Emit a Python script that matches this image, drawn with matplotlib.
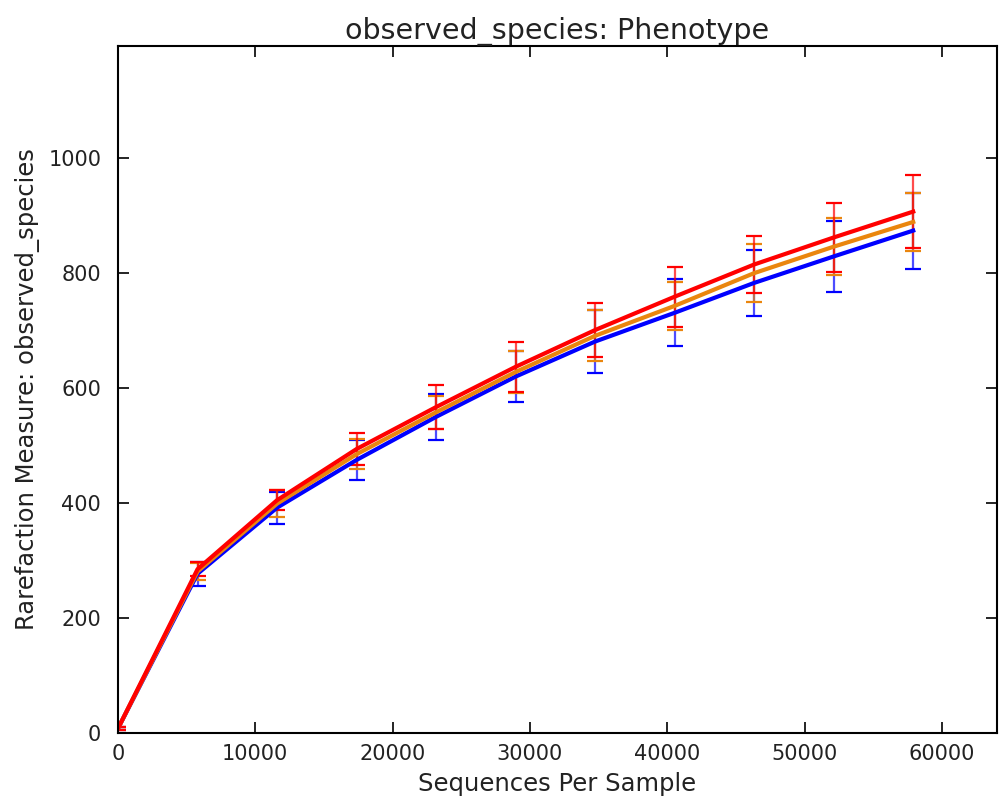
import numpy as np
import matplotlib
matplotlib.use("Agg")
import matplotlib.pyplot as plt

# sequences per sample (rarefaction depths)
depths = [10, 5799, 11588, 17377, 23166, 28955, 34744, 40533, 46322, 52111, 57900]

# mean observed species per group, with std error bars
blue_mean = [8, 277, 392, 475, 550, 620, 681, 731, 783, 829, 874]
blue_err = [2, 21, 28, 35, 40, 45, 54, 58, 58, 62, 66]
orange_mean = [8, 281, 399, 485, 558, 628, 691, 743, 800, 846, 889]
orange_err = [2, 15, 24, 26, 29, 36, 44, 42, 50, 50, 50]
red_mean = [8, 285, 405, 494, 567, 637, 701, 759, 815, 862, 907]
red_err = [2, 12, 17, 28, 39, 44, 47, 52, 50, 60, 64]

series = [
    (blue_mean, blue_err, '#0000ff'),
    (orange_mean, orange_err, '#ea860e'),
    (red_mean, red_err, '#ff0000'),
]

txt = '#222222'

fig = plt.figure(figsize=(9.99, 8.02), dpi=100)
ax = fig.add_axes([0.118, 0.086, 0.880, 0.8566])

for mean, err, col in series:
    ax.errorbar(depths, mean, yerr=err, color=col, lw=3, elinewidth=1.6,
                capsize=6, capthick=1.6, ecolor=col)
# error bars a bit translucent like the original
for c in ax.collections:
    c.set_alpha(0.7)

ax.set_xlim(0, 64000)
ax.set_ylim(0, 1195)
ax.set_xticks(np.arange(0, 60001, 10000))
ax.set_yticks(np.arange(0, 1001, 200))

ax.tick_params(direction='in', length=8, width=1.2, top=True, right=True,
               labelsize=15, labelcolor=txt)
ax.tick_params(axis='y', pad=12)
ax.tick_params(axis='x', pad=8)
for sp in ax.spines.values():
    sp.set_linewidth(1.5)

ax.set_xlabel('Sequences Per Sample', fontsize=17.5, color=txt, labelpad=6)
ax.set_ylabel('Rarefaction Measure: observed_species', fontsize=17.5,
              color=txt, labelpad=6)
ax.set_title('observed_species: Phenotype', fontsize=20.5, color=txt, pad=5)

plt.savefig('out.png', dpi=100)
